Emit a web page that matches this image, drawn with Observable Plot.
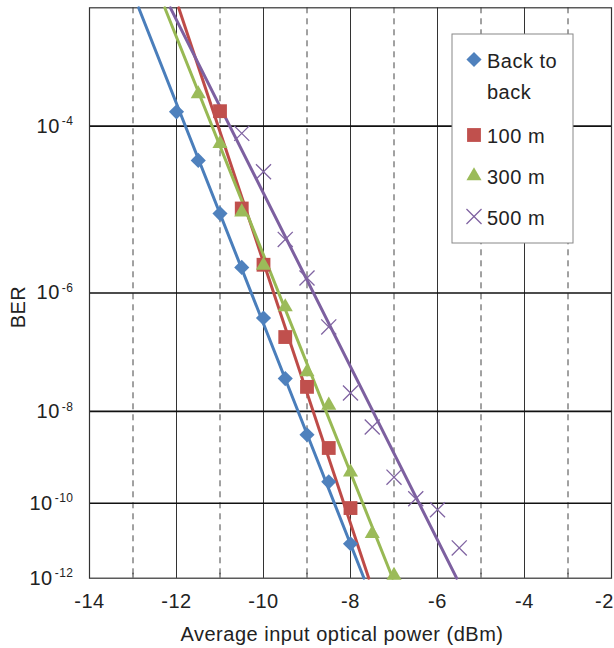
<!DOCTYPE html>
<html><head><meta charset="utf-8">
<script src="https://cdn.jsdelivr.net/npm/d3@7"></script>
<script src="https://cdn.jsdelivr.net/npm/@observablehq/plot@0.6"></script>
<style>
html,body{margin:0;padding:0;background:#fff;}
#chart{position:relative;width:614px;height:648px;}
</style></head><body><div id="chart"></div>
<script>
// ---- data ----
const seriesNames = ["Back to back", "100 m", "300 m", "500 m"];
const powerB2B = [-12, -11.5, -11, -10.5, -10, -9.5, -9, -8.5, -8];
const berB2B   = [1.37e-4, 4.5e-5, 1.13e-5, 2.3e-6, 4.2e-7, 4.1e-8, 3.4e-9, 3.2e-10, 9.2e-12];
const power100 = [-11, -10.5, -10, -9.5, -9, -8.5, -8];
const ber100   = [1.39e-4, 1.3e-5, 2.5e-6, 2.1e-7, 2.9e-8, 1.8e-9, 7.6e-11];
const power300 = [-11.5, -11, -10.5, -10, -9.5, -9, -8.5, -8, -7.5, -7];
const ber300   = [2.0e-4, 6.7e-5, 1.18e-5, 2.46e-6, 6.2e-7, 5.4e-8, 1.31e-8, 5.3e-10, 1.7e-11, 1.2e-12];
const power500 = [-10.5, -10, -9.5, -9, -8.5, -8, -7.5, -7, -6.5, -6, -5.5];
const ber500   = [8.5e-5, 3.4e-5, 5.4e-6, 1.64e-6, 3.05e-7, 2.24e-8, 4.9e-9, 4.1e-10, 1.28e-10, 6.9e-11, 7.1e-12];
// fitted straight lines: power at BER = 1e-3 and at BER = 1e-12
const fitBER      = [1e-3, 1e-12];
const fitPowerB2B = [-12.87, -7.69];
const fitPower100 = [-11.95, -7.58];
const fitPower300 = [-12.27, -7.03];
const fitPower500 = [-12.14, -5.56];
// axes
const xTickLabels = [-14, -12, -10, -8, -6, -4, -2];
const xGridSolid  = [-12, -10, -8, -6, -4];
const xGridDashed = [-13, -11, -9, -7, -5, -3];
const xMinorTicks = [-13, -12, -11, -10, -9, -8, -7, -6, -5, -4, -3];
const yTickBER    = [1e-4, 1e-6, 1e-8, 1e-10, 1e-12];
const yGridBER    = [1e-4, 1e-6, 1e-8, 1e-10];
const berDomain   = [1e-3, 1e-12];

// ---- styles ----
const markColors = ["#4F81BD", "#C0504D", "#9BBB59", "#8064A2"];
const lineColors = ["#4A7EBB", "#BE4B48", "#98B954", "#7D60A0"];
const symbols = ["diamond2", "square", "triangle", "times"];
const radii = [6.8, 7.8, 5.6, 6.9];

const W = 614, H = 648, mL = 89, mR = 3, mT = 7.3, mB = 70.3;
const plotH = H - mT - mB;
const q = b => -Math.log10(b);

const powers = [powerB2B, power100, power300, power500];
const bers = [berB2B, ber100, ber300, ber500];
const fits = [fitPowerB2B, fitPower100, fitPower300, fitPower500];

const pointSets = seriesNames.map((s, i) => powers[i].map((p, j) => ({series: s, power: p, ber: bers[i][j]})));
const fitSets = seriesNames.map((s, i) => fits[i].map((p, j) => ({series: s, power: p, ber: fitBER[j]})));

const marks = [
  Plot.ruleX(xGridSolid, {stroke: "#333", strokeWidth: 1}),
  Plot.ruleX(xGridDashed, {stroke: "#444", strokeWidth: 1, strokeDasharray: "6,5"}),
  Plot.ruleY(yGridBER, {y: d => q(d), stroke: "#111", strokeWidth: 1.6}),
  Plot.tickX(xMinorTicks, {x: d => d, stroke: "#333", insetTop: plotH - 5}),
  Plot.frame({stroke: "#333", strokeWidth: 1.2}),
  Plot.axisX({ticks: xTickLabels, tickSize: 0, tickPadding: 16, tickFormat: d => String(d), label: null}),
  Plot.axisY({ticks: yTickBER.map(d => Math.round(q(d))), tickSize: 0, tickPadding: 16,
              tickFormat: d => "10^-" + d, label: null})
];
fitSets.forEach((rows, i) => {
  marks.push(Plot.line(rows, {x: "power", y: d => q(d.ber), stroke: lineColors[i], strokeWidth: 3}));
});
pointSets.forEach((rows, i) => {
  if (symbols[i] === "times") {
    marks.push(Plot.dot(rows, {x: "power", y: d => q(d.ber), symbol: symbols[i], r: radii[i],
      stroke: markColors[i], strokeWidth: 1.3, fill: "none"}));
  } else {
    marks.push(Plot.dot(rows, {x: "power", y: d => q(d.ber), symbol: symbols[i], r: radii[i],
      fill: markColors[i], stroke: "none"}));
  }
});

const plot = Plot.plot({
  width: W, height: H,
  marginLeft: mL, marginRight: mR, marginTop: mT, marginBottom: mB,
  style: {fontFamily: "'Liberation Sans', Arial, Helvetica, sans-serif", fontSize: "20px", color: "#222", background: "#fff", overflow: "visible", letterSpacing: "0.5px"},
  x: {domain: [-14, -2]},
  y: {type: "log", domain: [q(berDomain[0]), q(berDomain[1])], reverse: true},
  marks
});
document.getElementById("chart").appendChild(plot);

const svg = d3.select(plot);
// superscript exponents on the y tick labels
svg.selectAll('g[aria-label="y-axis tick label"] text').each(function() {
  const t = d3.select(this);
  const parts = t.text().split("^");
  t.text(null);
  t.append("tspan").text(parts[0]);
  t.append("tspan").attr("font-size", "12px").attr("dx", "2").attr("dy", "-0.6em").text(parts[1]);
});
// keep the last x label inside the picture
const xLabels = svg.selectAll('g[aria-label="x-axis tick label"] text').nodes();
if (xLabels.length) d3.select(xLabels[xLabels.length - 1]).attr("dx", -7);

// axis titles
svg.append("text").attr("transform", "translate(25,307) rotate(-90)")
  .attr("text-anchor", "middle").attr("font-size", "20px").attr("fill", "#222").text("BER");
svg.append("text").attr("x", 342).attr("y", 641)
  .attr("text-anchor", "middle").attr("font-size", "20px").attr("fill", "#222")
  .text("Average input optical power (dBm)");

// legend
const lg = svg.append("g").attr("font-size", "20px").attr("fill", "#222").attr("text-anchor", "start");
lg.append("rect").attr("x", 452).attr("y", 34).attr("width", 121).attr("height", 209)
  .attr("fill", "#fff").attr("stroke", "#888").attr("stroke-width", 1);
const d3sym = {diamond2: d3.symbolDiamond2, square: d3.symbolSquare, triangle: d3.symbolTriangle, times: d3.symbolTimes};
const legendRows = [59.5, 135, 176, 216.5];
const legendText = [["Back to", "back"], ["100 m"], ["300 m"], ["500 m"]];
seriesNames.forEach((s, i) => {
  const path = d3.symbol(d3sym[symbols[i]], radii[i] * radii[i] * Math.PI)();
  const p = lg.append("path").attr("d", path).attr("transform", `translate(474,${legendRows[i]})`);
  if (symbols[i] === "times") p.attr("fill", "none").attr("stroke", markColors[i]).attr("stroke-width", 1.3);
  else p.attr("fill", markColors[i]);
  legendText[i].forEach((line, k) => {
    lg.append("text").attr("x", 487).attr("y", legendRows[i] + 1 + k * 31).attr("dy", "0.35em")
      .attr("text-anchor", "start").text(line);
  });
});
</script></body></html>
